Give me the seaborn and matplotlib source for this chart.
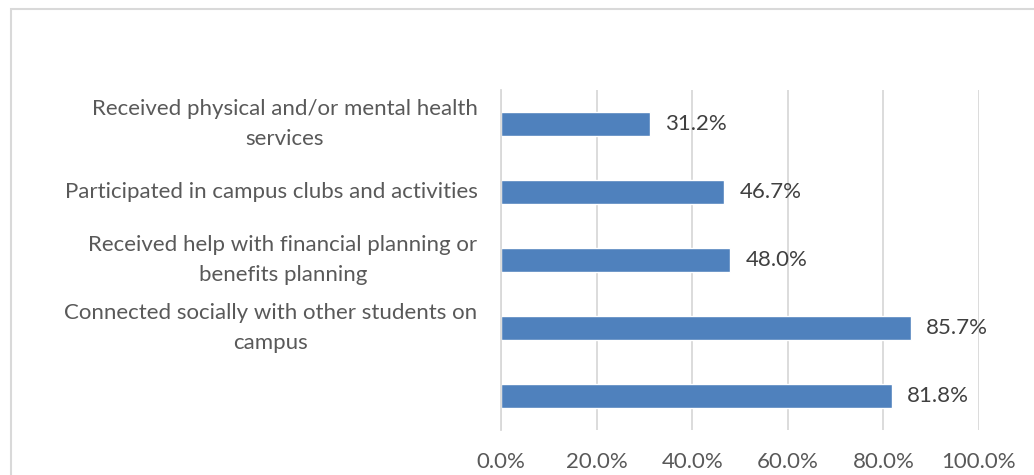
import matplotlib
matplotlib.use("Agg")
import matplotlib.pyplot as plt
from matplotlib.patches import Rectangle
import seaborn as sns
import pandas as pd

categories = [
    "Received physical and/or mental health\nservices",
    "Participated in campus clubs and activities",
    "Received help with financial planning or\nbenefits planning",
    "Connected socially with other students on\ncampus",
    "",
]
values = [31.2, 46.7, 48.0, 85.7, 81.8]
xticks = [0, 20, 40, 60, 80, 100]
xtick_labels = ["0.0%", "20.0%", "40.0%", "60.0%", "80.0%", "100.0%"]

sns.set_theme(style="white")
plt.rcParams["font.family"] = ["Lato", "DejaVu Sans"]

W, H = 1034, 475
fig = plt.figure(figsize=(W / 100, H / 100), dpi=100)
ax = fig.add_axes([501 / W, 1 - 430 / H, (979 - 501) / W, (430 - 90) / H])

df = pd.DataFrame({"cat": [f"c{i}" for i in range(len(categories))], "val": values})
sns.barplot(data=df, x="val", y="cat", orient="h", color="#4F81BD", saturation=1,
            width=0.35, ax=ax)

FS = 16
ax.set_xlim(0, 100)
ax.set_ylim(len(categories) - 0.5, -0.5)
ax.set_xticks(xticks)
ax.set_xticklabels(xtick_labels)
ax.set_yticks(range(len(categories)))
ax.set_yticklabels(categories, multialignment="center", linespacing=1.6)
for lbl in ax.get_yticklabels():
    lbl.set_verticalalignment("center")
ax.set_xlabel("")
ax.set_ylabel("")

ax.tick_params(axis="x", length=0, pad=16, labelsize=FS, labelcolor="#595959")
ax.tick_params(axis="y", length=0, pad=17, labelsize=FS, labelcolor="#595959")

ax.grid(axis="x", color="#D9D9D9", linewidth=1.3)
ax.grid(axis="y", visible=False)
ax.set_axisbelow(True)
for s in ["top", "right", "bottom"]:
    ax.spines[s].set_visible(False)
ax.spines["left"].set_color("#D9D9D9")
ax.spines["left"].set_linewidth(1.3)

for cont in ax.containers:
    ax.bar_label(cont, labels=[f"{v:.1f}%" for v in values], padding=11,
                 fontsize=FS, color="#404040")

# chart area frame (top and left edges visible)
fig.add_artist(Rectangle((11 / W, -0.2), 1.2, 1.2 - 8.5 / H,
                         transform=fig.transFigure, fill=False,
                         edgecolor="#D9D9D9", linewidth=1.5))

fig.savefig("out.png", dpi=100)
